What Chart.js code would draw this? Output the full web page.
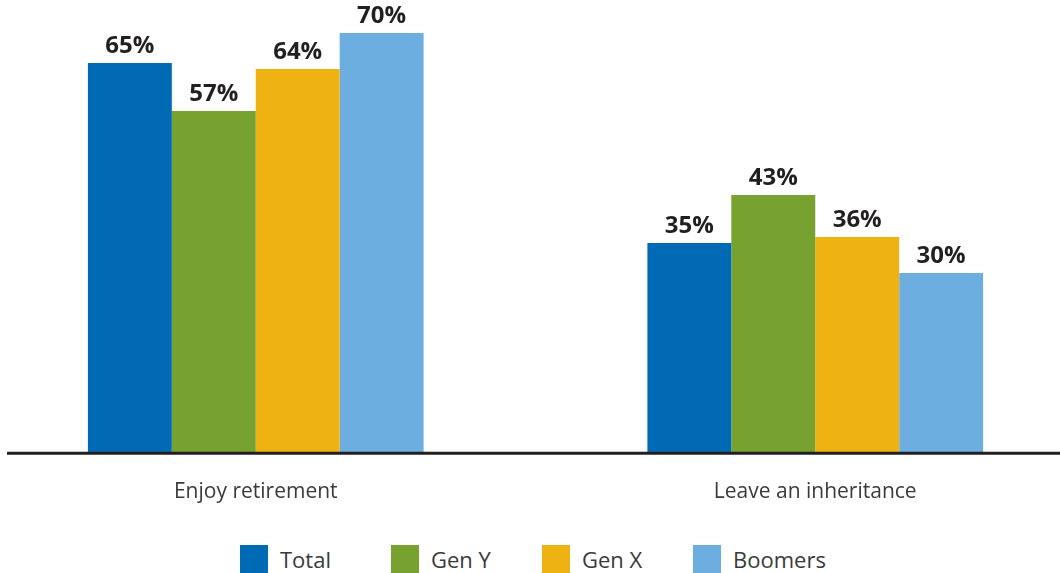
<!DOCTYPE html>
<html lang="en">
<head>
    <meta charset="UTF-8">
    <title>Enjoy retirement vs. leave an inheritance</title>
    <script src="https://cdn.jsdelivr.net/npm/chart.js"></script>
    <style>
        html, body { margin: 0; padding: 0; background: #fff; overflow: hidden; }
        body { width: 1060px; height: 573px; position: relative; font-family: "Open Sans", sans-serif; }
        #chartBox { position: absolute; left: -24px; top: 0; width: 1119px; height: 532px; }
        #legend { position: absolute; left: 240px; top: 545px; display: flex; }
        .item { width: 151px; display: flex; align-items: center; height: 28px; }
        .item span.box { width: 28px; height: 28px; margin-right: 12px; }
        .item span.txt { font-size: 22px; color: #3a3a3a; }
    </style>
</head>
<body>
    <div id="chartBox"><canvas id="chart"></canvas></div>
    <div id="legend"></div>
    <script>
        const categories = ['Enjoy retirement', 'Leave an inheritance'];
        const seriesNames = ['Total', 'Gen Y', 'Gen X', 'Boomers'];
        const total = [65, 35];
        const genY = [57, 43];
        const genX = [64, 36];
        const boomers = [70, 30];
        const colors = ['#006bb4', '#77a22f', '#eeb212', '#6caee0'];

        const values = [total, genY, genX, boomers];

        // percent labels above every bar
        const valueLabels = {
            id: 'valueLabels',
            afterDatasetsDraw(chart) {
                const ctx = chart.ctx;
                ctx.save();
                ctx.font = 'bold 24px "Open Sans"';
                ctx.fillStyle = '#231f20';
                ctx.textAlign = 'center';
                ctx.textBaseline = 'alphabetic';
                chart.data.datasets.forEach((ds, i) => {
                    chart.getDatasetMeta(i).data.forEach((bar, j) => {
                        ctx.fillText(ds.data[j] + '%', bar.x, bar.y - 10);
                    });
                });
                ctx.restore();
            }
        };

        // baseline rule, starts a little in from the left page edge
        const baseline = {
            id: 'baseline',
            afterDatasetsDraw(chart) {
                const ctx = chart.ctx;
                const y = chart.scales.y.getPixelForValue(0) + 0.5;
                ctx.save();
                ctx.strokeStyle = '#231f20';
                ctx.lineWidth = 3;
                ctx.beginPath();
                ctx.moveTo(31, y);
                ctx.lineTo(chart.width, y);
                ctx.stroke();
                ctx.restore();
            }
        };

        new Chart(document.getElementById('chart'), {
            type: 'bar',
            data: {
                labels: categories,
                datasets: seriesNames.map((name, i) => ({
                    label: name,
                    data: values[i],
                    backgroundColor: colors[i],
                    barPercentage: 1,
                    categoryPercentage: 0.6
                }))
            },
            options: {
                responsive: true,
                maintainAspectRatio: false,
                animation: false,
                layout: { padding: { left: 0, right: 0, top: 3, bottom: 0 } },
                plugins: {
                    legend: { display: false },
                    tooltip: { enabled: false }
                },
                scales: {
                    x: {
                        grid: { display: false, drawTicks: false },
                        border: { display: false },
                        ticks: {
                            padding: 27,
                            color: '#3a3a3a',
                            font: { family: 'Open Sans', size: 21 }
                        }
                    },
                    y: {
                        display: false,
                        min: 0,
                        max: 75
                    }
                }
            },
            plugins: [valueLabels, baseline]
        });

        // legend row
        const legend = document.getElementById('legend');
        seriesNames.forEach((name, i) => {
            const item = document.createElement('div');
            item.className = 'item';
            item.innerHTML = '<span class="box" style="background:' + colors[i] + '"></span><span class="txt">' + name + '</span>';
            legend.appendChild(item);
        });
    </script>
</body>
</html>
